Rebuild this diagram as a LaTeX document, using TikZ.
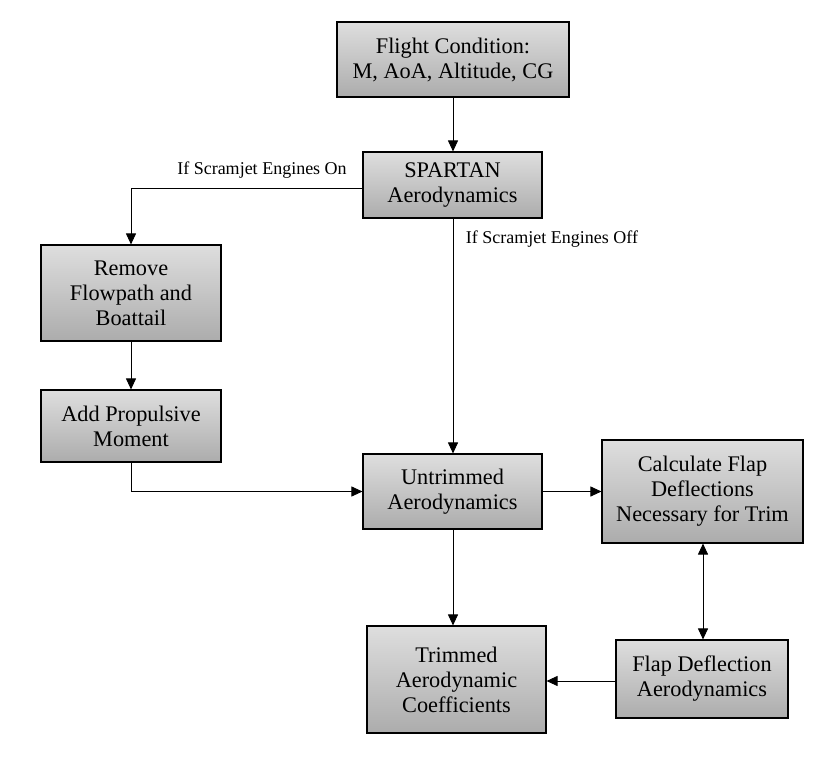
\documentclass[tikz,border=0pt]{standalone}
\usepackage{fontspec}
\setmainfont{Liberation Serif}
\usetikzlibrary{arrows.meta}
\definecolor{boxtop}{RGB}{222,222,222}
\definecolor{boxbot}{RGB}{172,172,172}
\tikzset{
  box/.style={draw=black, line width=1.1pt, top color=boxtop, bottom color=boxbot,
    align=center, inner sep=0pt, font=\fontsize{22.3}{25}\selectfont},
  conn/.style={line width=0.9pt, -{Triangle[length=11pt,width=10pt]}},
  lbl/.style={font=\fontsize{18}{21}\selectfont, inner sep=0pt}
}
\begin{document}
\begin{tikzpicture}[x=1pt,y=-1pt]
\useasboundingbox (0,0) rectangle (820,765);
\node[box, minimum width=232pt, minimum height=75pt] (flight) at (453,59.5) {Flight Condition:\\M, AoA, Altitude, CG};
\node[box, minimum width=179pt, minimum height=66pt] (spartan) at (452.5,185) {SPARTAN\\Aerodynamics};
\node[box, minimum width=180pt, minimum height=96pt] (remove) at (131,293) {Remove\\Flowpath and\\Boattail};
\node[box, minimum width=180pt, minimum height=72pt] (add) at (131,426) {Add Propulsive\\Moment};
\node[box, minimum width=179pt, minimum height=75pt] (untrim) at (452.5,491.5) {Untrimmed\\Aerodynamics};
\node[box, minimum width=201pt, minimum height=103pt] (calc) at (702.5,491.5) {Calculate Flap\\Deflections\\Necessary for Trim};
\node[box, minimum width=179pt, minimum height=107pt] (trim) at (456.5,679.5) {Trimmed\\Aerodynamic\\Coefficients};
\node[box, minimum width=172pt, minimum height=78pt] (flapd) at (702,679) {Flap Deflection\\Aerodynamics};

\node[lbl] (lon) at (262,170) {If Scramjet Engines On};
\node[lbl] (loff) at (552,239) {If Scramjet Engines Off};

\draw[conn] (flight.south -| 453,0) -- (spartan.north -| 453,0);
\draw[conn] ([yshift=-3pt]spartan.west) -| (remove.north);
\draw[conn] (spartan.south -| 453,0) -- (untrim.north -| 453,0);
\draw[conn] (remove.south) -- (add.north);
\draw[conn] (add.south) |- (untrim.west);
\draw[conn] (untrim.east) -- (calc.west);
\draw[conn] (untrim.south -| 453,0) -- (trim.north -| 453,0);
\draw[line width=0.9pt, {Triangle[length=11pt,width=10pt]}-{Triangle[length=11pt,width=10pt]}] (calc.south -| 703,0) -- (flapd.north -| 703,0);
\draw[conn] ([yshift=-2pt]flapd.west) -- ([yshift=-2pt]flapd.west -| trim.east);
\end{tikzpicture}
\end{document}
